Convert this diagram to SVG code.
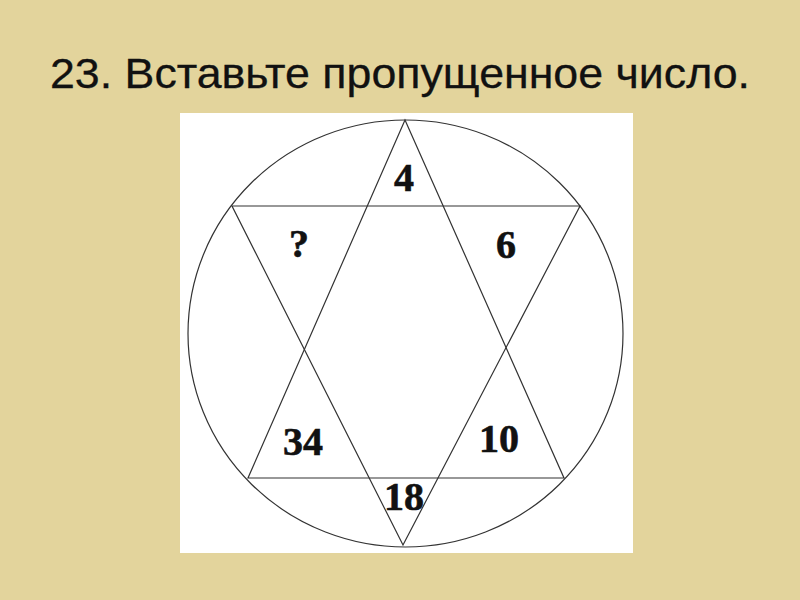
<svg xmlns="http://www.w3.org/2000/svg" width="800" height="600" viewBox="0 0 800 600">
<style>
.ln{fill:none;stroke:#333;stroke-width:1.2}
.num{font-family:"Liberation Serif","Times New Roman",serif;font-weight:bold;font-size:40px;fill:#111;stroke:#111;stroke-width:0.6;text-anchor:middle}
.title{font-family:"Liberation Sans",Arial,sans-serif;font-size:43px;fill:#111;stroke:#111;stroke-width:0.3}
</style>
<rect width="800" height="600" fill="#E3D49C"/>
<text class="title" x="50" y="88" textLength="700" lengthAdjust="spacingAndGlyphs">23. Вставьте пропущенное число.</text>
<rect x="180" y="113" width="453" height="440" fill="#fff"/>
<g id="circle"><ellipse class="ln" cx="405.5" cy="333.5" rx="217.5" ry="213.5"/></g>
<g id="connectors">
<polygon id="tri-up" class="ln" points="405,120 248,478 564,478"/>
<polygon id="tri-down" class="ln" points="232,206 580,206 403,545"/>
</g>
<g id="n4"><text class="num" x="404" y="191">4</text></g>
<g id="nq"><text class="num" x="299" y="257">?</text></g>
<g id="n6"><text class="num" x="506" y="258" font-size="38">6</text></g>
<g id="n34"><text class="num" x="303" y="455" font-size="41">34</text></g>
<g id="n10"><text class="num" x="499" y="452">10</text></g>
<g id="n18"><text class="num" x="404" y="510">18</text></g>
</svg>
